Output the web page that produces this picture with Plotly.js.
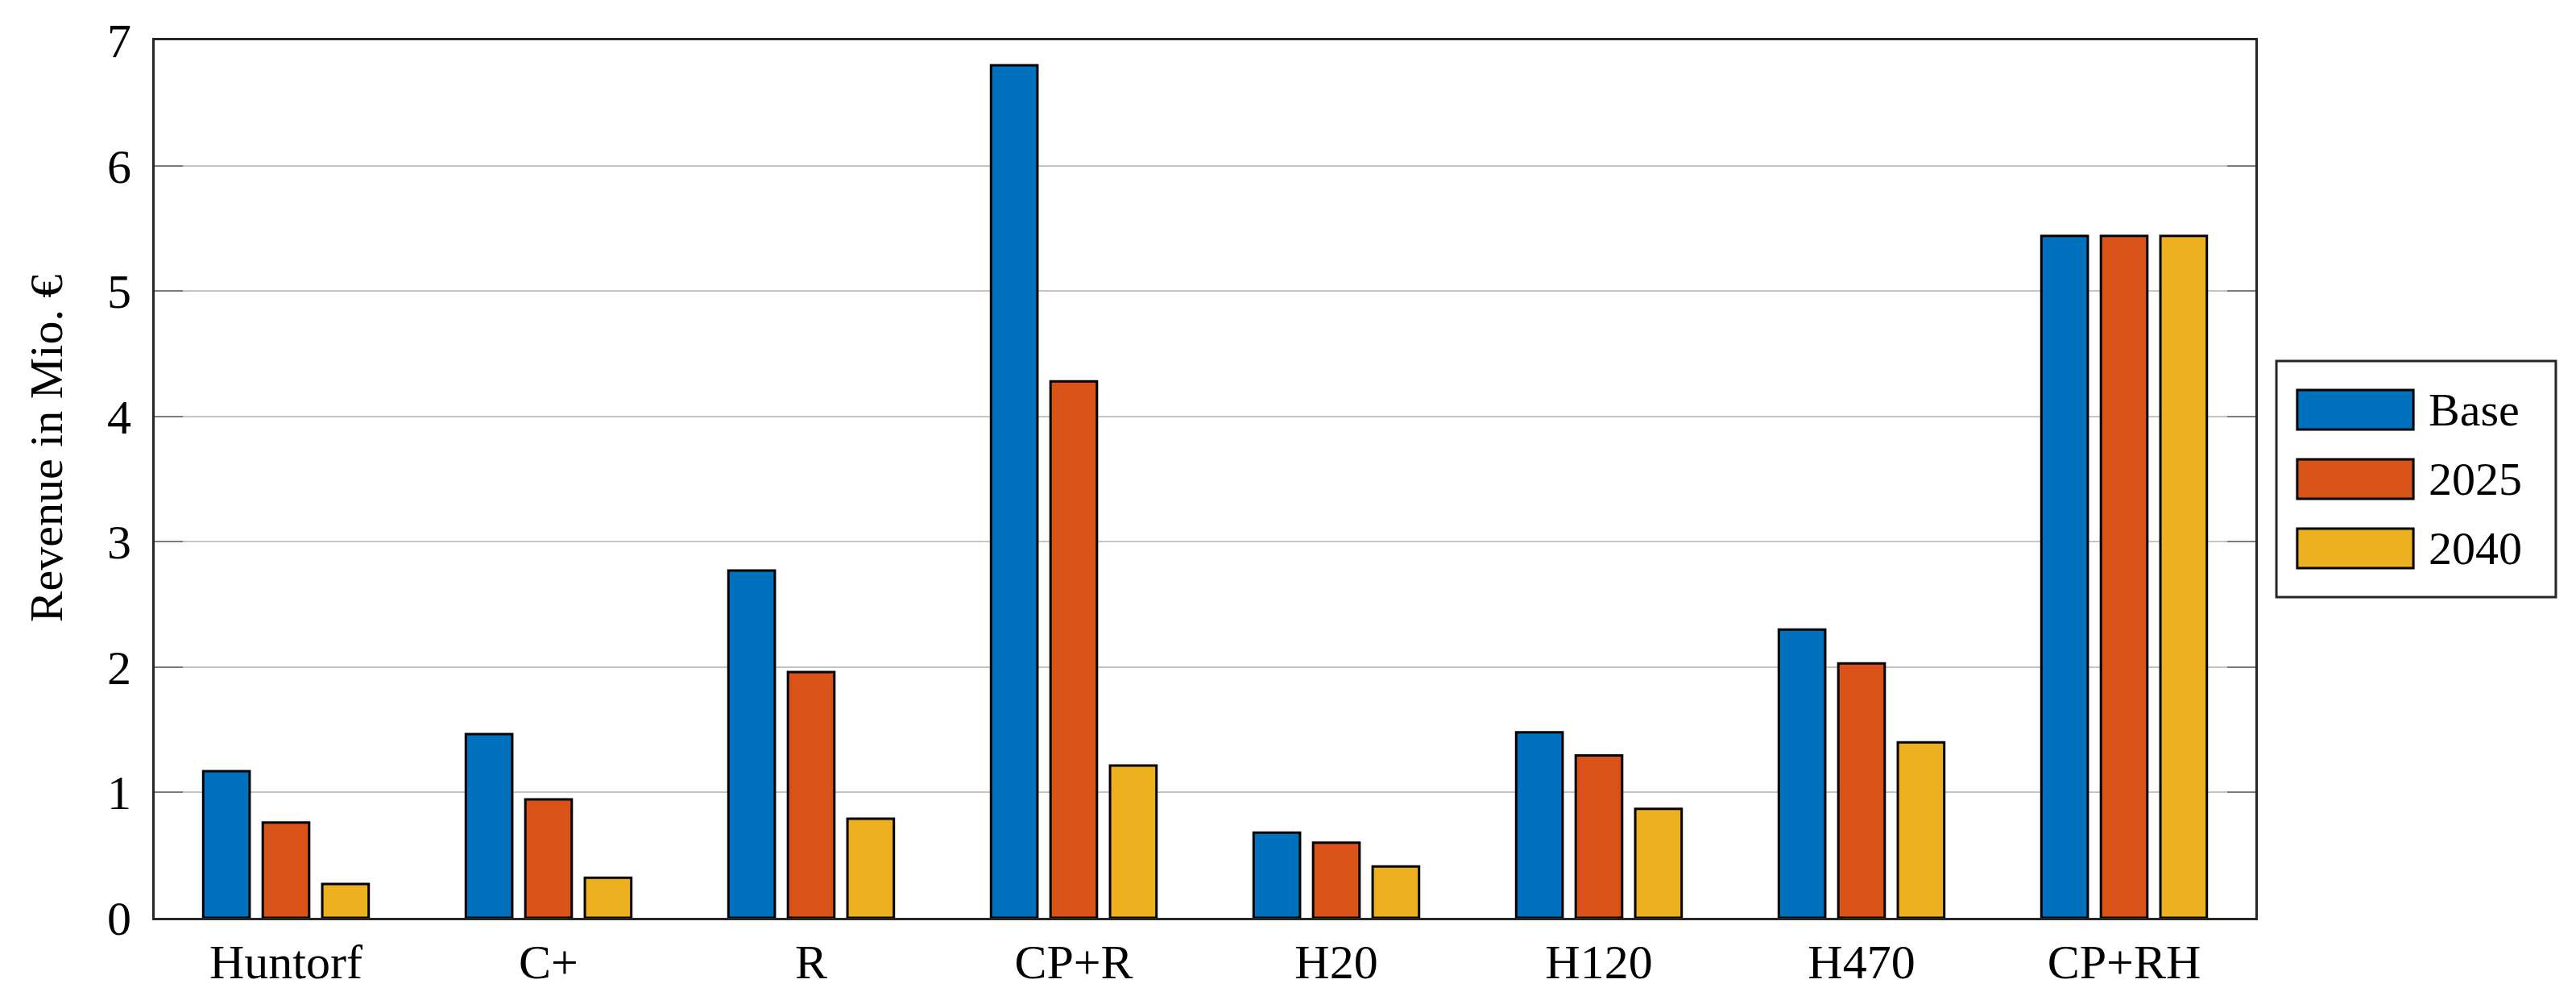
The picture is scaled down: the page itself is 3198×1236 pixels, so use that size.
<!DOCTYPE html>
<html>
<head>
<meta charset="utf-8">
<script src="https://cdn.plot.ly/plotly-3.0.1.min.js"></script>
<style>
  html, body { margin: 0; padding: 0; background: #ffffff; }
  #chart { width: 3198px; height: 1236px; }
</style>
</head>
<body>
<div id="chart"></div>
<script>
// ---- Data ----
const categories = ["Huntorf", "C+", "R", "CP+R", "H20", "H120", "H470", "CP+RH"];
const seriesNames = ["Base", "2025", "2040"];
const baseValues = [1.17, 1.465, 2.77, 6.80, 0.68, 1.48, 2.30, 5.44];
const y2025Values = [0.76, 0.945, 1.96, 4.28, 0.60, 1.295, 2.03, 5.44];
const y2040Values = [0.27, 0.32, 0.79, 1.215, 0.41, 0.87, 1.40, 5.44];
const yTickValues = [0, 1, 2, 3, 4, 5, 6, 7];
const yAxisTitle = "Revenue in Mio. €";

// ---- Styles ----
const colors = ["#0072BD", "#D95319", "#EDB120"];
const FONT = "Liberation Serif, Times New Roman, serif";
const seriesValues = [baseValues, y2025Values, y2040Values];

const traces = seriesValues.map((vals, i) => ({
  type: "bar",
  name: seriesNames[i],
  x: categories,
  y: vals,
  marker: { color: colors[i], line: { color: "#000000", width: 3 } },
  showlegend: false,
  hoverinfo: "x+y+name"
}));

// Custom legend (large swatches like the reference)
const legendShapes = [{
  type: "rect", xref: "paper", yref: "paper",
  x0: 1.0100, x1: 1.1430, y0: 0.3655, y1: 0.6345,
  line: { color: "#262626", width: 3 }, fillcolor: "#ffffff"
}];
const legendAnnotations = [];
const rowCenters = [0.579, 0.500, 0.421];
const swH = 0.0450;
seriesNames.forEach((nm, i) => {
  legendShapes.push({
    type: "rect", xref: "paper", yref: "paper",
    x0: 1.0199, x1: 1.0752,
    y0: rowCenters[i] - swH / 2, y1: rowCenters[i] + swH / 2,
    line: { color: "#000000", width: 3 }, fillcolor: colors[i]
  });
  legendAnnotations.push({
    xref: "paper", yref: "paper", x: 1.0815, y: rowCenters[i],
    xanchor: "left", yanchor: "middle", showarrow: false,
    text: nm, font: { family: FONT, size: 58, color: "#000000" }
  });
});

legendAnnotations.push({
  xref: "paper", yref: "paper", x: -0.0518, y: 0.535,
  xanchor: "center", yanchor: "middle", showarrow: false, textangle: -90,
  text: yAxisTitle, font: { family: FONT, size: 58, color: "#000000" }
});

const layout = {
  width: 3198, height: 1236,
  margin: { l: 192, r: 398, t: 50, b: 97, pad: 0 },
  paper_bgcolor: "#ffffff", plot_bgcolor: "#ffffff",
  barmode: "group",
  bargap: 0.32,
  bargroupgap: 0.22,
  font: { family: FONT, size: 58, color: "#000000" },
  xaxis: {
    type: "category",
    categoryorder: "array", categoryarray: categories,
    range: [-0.5, categories.length - 0.5],
    showline: true, linecolor: "#262626", linewidth: 3, mirror: true,
    ticks: "", showgrid: false, zeroline: false,
    tickfont: { family: FONT, size: 60, color: "#000000" },
    ticklabelstandoff: 0
  },
  yaxis: {
    range: [0, 7],
    tickmode: "array", tickvals: yTickValues, ticktext: yTickValues.map(String),
    showline: true, linecolor: "#262626", linewidth: 3, mirror: "ticks",
    ticks: "inside", ticklen: 35, tickwidth: 2, tickcolor: "#7a7a7a",
    showgrid: true, gridcolor: "#c4c4c4", gridwidth: 2,
    zeroline: false,
    tickfont: { family: FONT, size: 60, color: "#000000" },
    ticklabelstandoff: 14
  },
  shapes: legendShapes,
  annotations: legendAnnotations,
  showlegend: false
};

Plotly.newPlot("chart", traces, layout, { displayModeBar: false, staticPlot: true });
</script>
</body>
</html>
